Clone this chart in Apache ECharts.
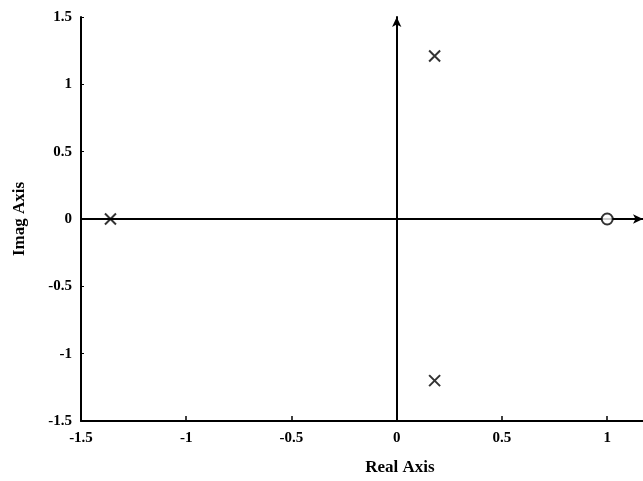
<!DOCTYPE html>
<html><head><meta charset="utf-8">
<script src="https://cdn.jsdelivr.net/npm/echarts@6/dist/echarts.min.js"></script>
<style>html,body{margin:0;padding:0;background:#fff}#c{width:643px;height:481px}</style>
</head><body><div id="c"></div>
<script>
const xTicks = [-1.5, -1, -0.5, 0, 0.5, 1];
const yTicks = [-1.5, -1, -0.5, 0, 0.5, 1, 1.5];
const poles = [[-1.36, 0], [0.18, 1.21], [0.18, -1.2]];
const zeros = [[1, 0]];
const xRange = [-1.5, 1.17];
const yRange = [-1.5, 1.5];

const font = 'Liberation Serif';
const xPath = 'path://M0,0L10,10M10,0L0,10';
const chart = echarts.init(document.getElementById('c'));
chart.setOption({
  animation: false,
  grid: {left: 81, right: 0, top: 17, bottom: 56},
  xAxis: [{
    type: 'value', min: xRange[0], max: xRange[1],
    name: 'Real Axis', nameLocation: 'middle', nameGap: 38,
    nameTextStyle: {fontFamily: font, fontSize: 17, fontWeight: 'bold', color: '#000', padding: [0, 0, 0, 76]},
    axisLine: {onZero: false, lineStyle: {color: '#000', width: 2}},
    axisTick: {inside: true, length: 5, lineStyle: {color: '#000', width: 1.5}, customValues: xTicks},
    axisLabel: {fontFamily: font, fontSize: 15, fontWeight: 'bold', color: '#000', margin: 10, customValues: xTicks},
    splitLine: {show: false}
  }, {
    type: 'value', min: xRange[0], max: xRange[1], position: 'bottom',
    axisLine: {onZero: true, onZeroAxisIndex: 0, symbol: ['none', 'arrow'], symbolSize: [7, 10], lineStyle: {color: '#000', width: 2}},
    axisTick: {show: false}, axisLabel: {show: false}, splitLine: {show: false}
  }],
  yAxis: [{
    type: 'value', min: yRange[0], max: yRange[1],
    name: 'Imag Axis', nameLocation: 'middle', nameGap: 53,
    nameTextStyle: {fontFamily: font, fontSize: 17, fontWeight: 'bold', color: '#000'},
    axisLine: {onZero: false, lineStyle: {color: '#000', width: 2}},
    axisTick: {inside: true, length: 3, lineStyle: {color: '#000', width: 1}, customValues: yTicks},
    axisLabel: {fontFamily: font, fontSize: 15, fontWeight: 'bold', color: '#000', margin: 9, customValues: yTicks},
    splitLine: {show: false}
  }, {
    type: 'value', min: yRange[0], max: yRange[1], position: 'left',
    axisLine: {onZero: true, onZeroAxisIndex: 0, symbol: ['none', 'arrow'], symbolSize: [7, 10], lineStyle: {color: '#000', width: 2}},
    axisTick: {show: false}, axisLabel: {show: false}, splitLine: {show: false}
  }],
  series: [{
    type: 'scatter', xAxisIndex: 0, yAxisIndex: 0, data: poles,
    symbol: xPath, symbolSize: 11,
    itemStyle: {color: 'none', borderColor: '#000', borderWidth: 2}
  }, {
    type: 'scatter', xAxisIndex: 0, yAxisIndex: 0, data: zeros,
    symbol: 'circle', symbolSize: 11,
    itemStyle: {color: '#fff', borderColor: '#000', borderWidth: 2}
  }]
});
</script></body></html>
